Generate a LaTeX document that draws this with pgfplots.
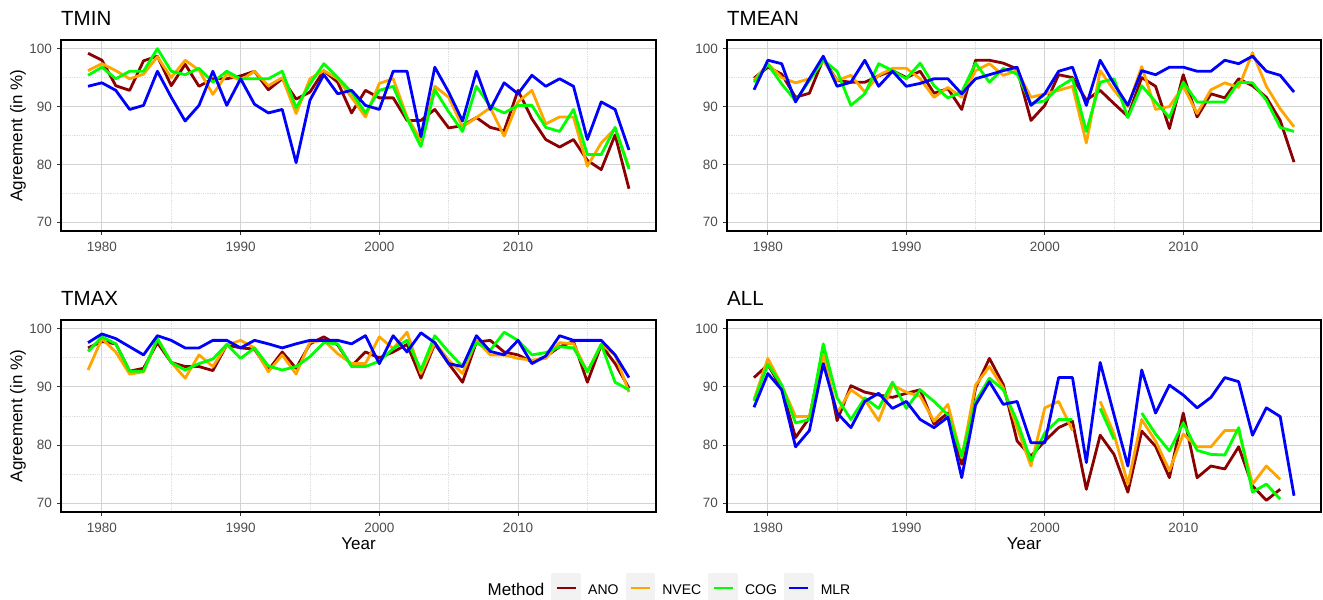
\documentclass[border=0pt]{standalone}
\usepackage{pgfplots}
\pgfplotsset{compat=1.18}
\usepackage{pgfplotstable}
\usepackage{fontspec}
\setmainfont{Liberation Sans}
\definecolor{cANO}{HTML}{8B0000}
\definecolor{cNVEC}{HTML}{FFA500}
\definecolor{cCOG}{HTML}{00FF00}
\definecolor{cMLR}{HTML}{0000FF}
\definecolor{gridmaj}{HTML}{D3D3D3}
\definecolor{gridmin}{HTML}{DEDEDE}
\definecolor{ticktext}{HTML}{4D4D4D}
\definecolor{keybg}{HTML}{F2F2F2}

\pgfplotstableread{
year ANO NVEC COG MLR
1979 99.2 96.2 95.4 93.5
1980 98.0 97.4 96.8 94.1
1981 93.6 96.2 94.8 92.8
1982 92.8 94.8 96.1 89.5
1983 97.9 95.6 96.1 90.2
1984 98.7 98.6 100.0 96.1
1985 93.6 95.0 96.1 91.6
1986 97.3 98.0 95.5 87.5
1987 93.5 96.3 96.6 90.2
1988 94.8 92.1 94.2 96.1
1989 94.8 95.6 96.1 90.2
1990 95.3 94.5 94.8 94.8
1991 96.1 96.1 94.8 90.4
1992 92.9 93.6 94.8 88.9
1993 94.8 95.0 96.1 89.5
1994 91.3 88.8 89.8 80.3
1995 92.5 94.8 93.9 91.1
1996 96.2 96.2 97.4 95.5
1997 94.2 94.8 95.0 92.2
1998 88.9 91.6 92.5 92.8
1999 92.8 88.2 88.9 90.2
2000 91.5 94.0 92.8 89.5
2001 91.5 94.8 93.5 96.1
2002 87.6 88.2 87.9 96.1
2003 87.6 84.2 83.1 84.8
2004 89.5 93.5 92.9 96.8
2005 86.3 91.6 89.1 92.5
2006 86.7 86.5 85.7 87.5
2007 88.1 88.1 93.5 96.1
2008 86.4 89.8 90.0 89.5
2009 85.8 84.9 88.9 94.1
2010 92.8 90.8 90.2 92.2
2011 87.9 92.8 90.2 95.4
2012 84.3 87.0 86.4 93.5
2013 83.0 88.2 85.7 94.8
2014 84.3 88.2 89.5 93.5
2015 80.7 79.7 81.7 84.3
2016 79.1 83.7 81.7 90.8
2017 85.1 86.2 86.4 89.5
2018 75.8 79.5 79.2 82.5
}\tmin

\pgfplotstableread{
year ANO NVEC COG MLR
1979 94.9 94.5 94.2 92.9
1980 96.8 97.4 97.3 98.0
1981 95.6 95.0 93.9 97.4
1982 91.6 94.1 91.0 90.8
1983 92.3 94.8 94.5 94.8
1984 98.2 97.9 98.0 98.7
1985 94.5 94.5 96.1 93.5
1986 94.2 95.4 90.2 94.2
1987 94.2 92.5 92.2 98.0
1988 95.3 95.4 97.4 93.5
1989 96.2 96.6 96.2 96.1
1990 95.0 96.6 94.8 93.5
1991 96.1 94.8 97.5 94.0
1992 92.3 91.6 93.6 94.8
1993 93.1 93.3 91.5 94.8
1994 89.5 91.6 92.5 92.2
1995 98.0 96.2 97.5 94.8
1996 98.0 97.4 94.2 95.5
1997 97.5 95.4 96.6 96.2
1998 96.5 96.2 95.6 96.8
1999 87.6 91.6 90.5 90.2
2000 90.2 92.2 91.0 92.2
2001 95.5 92.8 93.3 96.1
2002 95.0 93.5 94.8 96.8
2003 91.1 83.7 85.7 90.2
2004 92.8 96.2 94.2 98.0
2005 90.5 92.8 94.8 93.9
2006 88.3 90.0 88.1 90.2
2007 95.0 96.9 93.6 96.2
2008 93.5 89.5 90.8 95.5
2009 86.2 90.0 88.1 96.8
2010 95.5 93.5 94.2 96.8
2011 88.2 88.8 90.8 96.1
2012 92.2 92.9 90.8 96.1
2013 91.5 94.1 90.8 98.0
2014 94.8 93.3 94.2 97.4
2015 93.6 99.3 94.1 98.7
2016 91.6 93.5 91.1 96.1
2017 87.6 89.6 86.4 95.4
2018 80.4 86.5 85.7 92.5
}\tmean

\pgfplotstableread{
year ANO NVEC COG MLR
1979 96.7 92.9 96.1 97.6
1980 97.8 98.3 98.6 99.1
1981 97.4 96.0 97.4 98.3
1982 92.7 92.2 92.7 96.9
1983 93.2 92.6 92.7 95.5
1984 97.6 98.3 98.3 98.8
1985 94.2 94.2 94.2 98.0
1986 93.5 91.5 92.9 96.7
1987 93.5 95.5 94.0 96.7
1988 92.8 93.5 94.8 98.0
1989 97.2 97.2 97.3 98.0
1990 96.7 98.0 94.9 96.7
1991 96.5 96.7 96.7 98.0
1992 92.9 92.6 93.6 97.4
1993 96.0 95.5 92.9 96.7
1994 93.2 92.2 93.5 97.4
1995 97.4 97.7 95.2 98.0
1996 98.6 98.0 97.6 98.0
1997 97.2 95.7 97.4 98.0
1998 93.6 94.0 93.5 97.4
1999 96.0 94.0 93.5 98.8
2000 95.0 98.6 94.4 94.0
2001 96.0 96.6 96.6 98.8
2002 97.3 99.4 98.0 96.0
2003 91.5 92.3 92.9 99.3
2004 97.4 97.6 98.8 97.6
2005 94.0 94.6 96.0 94.0
2006 90.8 92.3 93.5 93.5
2007 97.7 98.0 97.6 98.8
2008 98.0 95.5 96.3 96.1
2009 96.0 95.5 99.4 95.5
2010 95.5 94.9 98.0 98.0
2011 94.3 94.6 95.5 94.0
2012 95.2 94.9 95.9 95.3
2013 96.9 97.6 96.9 98.8
2014 97.8 97.4 96.7 98.0
2015 90.8 92.6 92.6 98.0
2016 97.2 97.3 97.3 98.0
2017 94.0 95.5 90.8 95.5
2018 89.8 89.1 89.5 91.6
}\tmax

\pgfplotstableread{
year ANO NVEC COG MLR
1979 91.6 87.8 87.6 86.5
1980 93.8 94.9 93.9 92.3
1981 89.8 90.3 90.3 89.5
1982 81.3 84.9 83.8 79.7
1983 84.7 84.9 84.4 82.5
1984 96.3 95.7 97.4 94.0
1985 84.2 85.5 88.1 85.5
1986 90.2 89.5 84.4 83.0
1987 89.1 87.8 88.1 87.5
1988 88.6 84.2 86.3 88.9
1989 88.2 90.3 90.8 86.3
1990 88.9 89.1 86.3 87.5
1991 89.5 88.4 89.5 84.4
1992 83.6 84.1 87.5 83.0
1993 85.5 87.0 85.2 84.8
1994 76.7 77.8 78.1 74.4
1995 89.8 90.3 87.5 86.9
1996 94.9 93.5 91.5 90.9
1997 90.4 89.8 89.5 87.0
1998 80.7 83.0 84.1 87.5
1999 78.1 76.4 77.3 80.4
2000 80.7 86.4 82.1 80.4
2001 83.0 87.5 84.4 91.6
2002 84.1 82.5 84.4 91.6
2003 72.4 nan nan 77.0
2004 81.7 87.5 86.3 94.2
2005 78.4 81.9 81.0 85.2
2006 71.9 73.3 nan 76.4
2007 82.4 84.4 85.5 92.9
2008 79.8 80.7 81.9 85.5
2009 74.4 75.6 79.0 90.3
2010 85.5 81.9 83.8 88.6
2011 74.4 79.7 79.1 86.4
2012 76.4 79.7 78.4 88.2
2013 75.9 82.5 78.3 91.6
2014 79.7 82.5 83.0 90.9
2015 73.0 73.3 71.9 81.7
2016 70.5 76.4 73.3 86.4
2017 72.4 74.1 70.7 84.9
2018 nan nan nan 71.3
}\allt

\pgfplotsset{
  panel/.style={
    scale only axis, width=595bp, height=191bp,
    xmin=1977.05, xmax=2019.95, ymin=68.5, ymax=101.5,
    xtick={1980,1990,2000,2010}, xticklabels={1980,1990,2000,2010},
    ytick={70,80,90,100}, yticklabels={70,80,90,100},
    minor xtick={1985,1995,2005,2015}, minor ytick={75,85,95},
    grid=both,
    major grid style={gridmaj, line width=1bp},
    minor grid style={gridmin, line width=0.8bp, densely dotted},
    tick align=outside, tick pos=left,
    major tick length=4bp, minor tick length=0pt,
    tick style={color=black!80, line width=0.9bp},
    axis line style={line width=2.8bp, line cap=rect},
    ticklabel style={font=\fontsize{13.5bp}{16bp}\selectfont, text=ticktext, inner sep=0pt},
    yticklabel style={xshift=-5bp},
    xticklabel style={yshift=-7bp},
    unbounded coords=jump,
    every axis plot/.append style={line width=2.8bp, line join=round, mark=none},
    every axis title/.style={at={(0,1)}, anchor=base west, inner sep=0pt, yshift=14bp,
      font=\fontsize{20.5bp}{24bp}\selectfont},
    every axis y label/.style={at={(axis description cs:-0.0723,0.5)}, rotate=90, anchor=center,
      font=\fontsize{17bp}{20bp}\selectfont},
    every axis x label/.style={at={(axis description cs:0.5,0)}, anchor=north, inner sep=0pt,
      yshift=-26bp, font=\fontsize{17bp}{20bp}\selectfont},
  },
}

\newcommand{\fourlines}[1]{%
  \addplot[cANO] table[x=year, y=ANO] {#1};
  \addplot[cNVEC] table[x=year, y=NVEC] {#1};
  \addplot[cCOG] table[x=year, y=COG] {#1};
  \addplot[cMLR] table[x=year, y=MLR] {#1};
}

\begin{document}
\begin{tikzpicture}[x=1bp,y=1bp]
\useasboundingbox (0,0) rectangle (1323,600);

\begin{axis}[panel, at={(61bp,369bp)}, anchor=south west, title={TMIN},
  ylabel={Agreement (in \%)}]
\fourlines{\tmin}
\end{axis}

\begin{axis}[panel, at={(727bp,369bp)}, anchor=south west, width=594bp, title={TMEAN}]
\fourlines{\tmean}
\end{axis}

\begin{axis}[panel, at={(61bp,88bp)}, anchor=south west, height=192bp, title={TMAX},
  ylabel={Agreement (in \%)}, xlabel={Year},
  legend columns=5,
  legend image code/.code={%
    \fill[keybg] (0bp,-11.5bp) rectangle (27bp,15.5bp);
    \draw[#1, line width=2.6bp] (4bp,2bp) -- (23bp,2bp);},
  legend style={at={(1.016,-0.3177)}, anchor=north, draw=none, fill=none,
    font=\fontsize{14bp}{16bp}\selectfont, inner sep=0pt,
    nodes={inner sep=0pt},
    /tikz/every odd column/.append style={column sep=7bp},
    /tikz/every even column/.append style={column sep=7bp}}]
\addlegendimage{empty legend}
\addlegendentry{\fontsize{17bp}{20bp}\selectfont Method}
\addplot[cANO] table[x=year, y=ANO] {\tmax}; \addlegendentry{ANO}
\addplot[cNVEC] table[x=year, y=NVEC] {\tmax}; \addlegendentry{NVEC}
\addplot[cCOG] table[x=year, y=COG] {\tmax}; \addlegendentry{COG}
\addplot[cMLR] table[x=year, y=MLR] {\tmax}; \addlegendentry{MLR}
\end{axis}

\begin{axis}[panel, at={(727bp,88bp)}, anchor=south west, width=594bp, height=192bp,
  title={ALL}, xlabel={Year}]
\fourlines{\allt}
\end{axis}
\end{tikzpicture}
\end{document}
